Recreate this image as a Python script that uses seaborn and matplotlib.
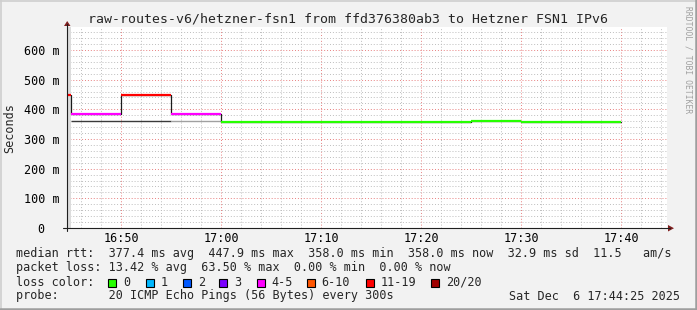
import matplotlib
matplotlib.use("Agg")
import matplotlib.pyplot as plt
import seaborn as sns
import pandas as pd
from matplotlib.patches import Rectangle, Polygon
from matplotlib.lines import Line2D

# ---------------- data ----------------
title = "raw-routes-v6/hetzner-fsn1 from ffd376380ab3 to Hetzner FSN1 IPv6"
sample_times = ["16:45", "16:50", "16:55", "17:00", "17:05", "17:10",
                "17:15", "17:20", "17:25", "17:30", "17:35", "17:40"]
median_ms = [447.9, 384.0, 447.9, 383.0, 358.0, 358.0,
             358.0, 358.0, 358.0, 361.0, 358.0, 358.0]
loss_class = ["11-19", "4-5", "11-19", "4-5", "0", "0",
              "0", "0", "0", "0", "0", "0"]
step_minutes = 5

smoke_start = ["16:45", "16:55"]
smoke_end = ["16:55", "17:00"]
smoke_ms = [359.0, 359.0]
smoke_shade = ["#3a3a3a", "#a0a0a0"]

window_start = "16:44:36"
window_end = "17:44:36"
unknown_until = "16:45"

x_tick_labels = ["16:50", "17:00", "17:10", "17:20", "17:30", "17:40"]
y_ticks = [0, 100, 200, 300, 400, 500, 600]
y_tick_labels = ["0  ", "100 m", "200 m", "300 m", "400 m", "500 m", "600 m"]
y_top = 677.5

loss_legend = ["0", "1", "2", "3", "4-5", "6-10", "11-19", "20/20"]
loss_colors = ["#26ff00", "#00b8ff", "#0059ff", "#7b00ff",
               "#ff00ff", "#ff5500", "#ff0000", "#a10000"]

row_median = "median rtt:  377.4 ms avg  447.9 ms max  358.0 ms min  358.0 ms now  32.9 ms sd  11.5   am/s"
row_loss = "packet loss: 13.42 % avg  63.50 % max  0.00 % min  0.00 % now"
row_probe = "probe:       20 ICMP Echo Pings (56 Bytes) every 300s"
stamp = "Sat Dec  6 17:44:25 2025"
watermark = "RRDTOOL / TOBI OETIKER"


def to_min(s):
    parts = [int(p) for p in s.split(":")]
    while len(parts) < 3:
        parts.append(0)
    return parts[0] * 60 + parts[1] + parts[2] / 60.0


# ---------------- style ----------------
sns.set_theme(style="white")
plt.rcParams["font.family"] = ["DejaVu Sans Mono", "DejaVu Sans"]
FS = 8.5

W, H = 697, 310
BG = "#f2f2f2"
fig = plt.figure(figsize=(W / 100, H / 100), dpi=100, facecolor=BG)


def fp(x, y):
    return (x / W, 1 - y / H)


L, R, T, B = 67, 667, 27, 228
ax = fig.add_axes([L / W, 1 - B / H, (R - L) / W, (B - T) / H])
ax.set_facecolor("white")

x0, x1 = to_min(window_start), to_min(window_end)
ax.set_xlim(x0, x1)
ax.set_ylim(0, y_top)

# grid
tick_pos = [to_min(t) for t in x_tick_labels]
ax.set_xticks(tick_pos)
ax.set_xticklabels(x_tick_labels)
minor_x = [m for m in range(int(x0) + 1, int(x1) + 1) if m % 2 == 0]
ax.set_xticks(minor_x, minor=True)
ax.set_yticks(y_ticks)
ax.set_yticklabels(y_tick_labels)
ax.set_yticks(list(range(20, int(y_top), 20)), minor=True)

ax.grid(which="minor", color="#bdbdbd", linestyle=(0, (1, 2)), linewidth=0.7, zorder=0)
ax.grid(which="major", color="#e88080", linestyle=(0, (1, 2)), linewidth=0.7, zorder=0)
ax.set_axisbelow(True)
for s in ax.spines.values():
    s.set_visible(False)
ax.tick_params(axis="both", which="both", labelsize=FS, colors="black")
ax.tick_params(axis="x", which="major", length=2, color="#de5050", width=0.7, pad=0.8)
ax.tick_params(axis="x", which="minor", length=1.5, color="#aaaaaa", width=0.7)
ax.tick_params(axis="y", which="major", length=2.5, color="#1f1f1f", width=0.7, pad=3)
ax.tick_params(axis="y", which="minor", length=0)

# unknown area
ax.axvspan(x0, to_min(unknown_until), color="#dcdcdc", zorder=1, lw=0)

# smoke
ax.hlines(smoke_ms, [to_min(s) for s in smoke_start], [to_min(e) for e in smoke_end],
          colors=smoke_shade, linewidth=1.0, zorder=2)

# black step median
df_step = pd.DataFrame({"t": [to_min(t) for t in sample_times], "rtt": median_ms})
sns.lineplot(data=df_step, x="t", y="rtt", drawstyle="steps-pre", color="#1a1a1a",
             linewidth=0.9, estimator=None, ax=ax, zorder=3)

# coloured median segments by loss
rows = []
for i, (t, v, c) in enumerate(zip(sample_times, median_ms, loss_class)):
    end = to_min(t)
    rows.append({"seg": i, "t": end - step_minutes, "rtt": v, "loss": c})
    rows.append({"seg": i, "t": end, "rtt": v, "loss": c})
df_seg = pd.DataFrame(rows)
palette = dict(zip(loss_legend, loss_colors))
sns.lineplot(data=df_seg, x="t", y="rtt", hue="loss", units="seg", estimator=None,
             palette=palette, linewidth=1.6, legend=False, ax=ax, zorder=4,
             solid_capstyle="butt")
ax.set_xlabel("")
ax.set_ylabel("")

# axes lines and arrows (decoration)
fig.add_artist(Line2D([fp(L, 0)[0]] * 2, [fp(0, 231)[1], fp(0, 24)[1]], color="#1f1f1f", lw=0.8))
fig.add_artist(Line2D([fp(63, 0)[0], fp(670, 0)[0]], [fp(0, B)[1]] * 2, color="#1f1f1f", lw=0.8))
fig.add_artist(Polygon([fp(64, 26), fp(70.5, 26), fp(67.2, 21)], closed=True,
                       facecolor="#801f1f", edgecolor="none"))
fig.add_artist(Polygon([fp(668, 225), fp(668, 231.5), fp(674, 228.2)], closed=True,
                       facecolor="#801f1f", edgecolor="none"))

# texts
fig.text(*fp(348, 19), title, ha="center", va="center", fontsize=9.5)
fig.text(*fp(10, 128), "Seconds", ha="center", va="center", rotation=90, fontsize=FS)
fig.text(*fp(688, 6), watermark, ha="center", va="top", rotation=270,
         fontsize=5.8, color="#a0a0a0")

rows_y = [254, 268, 282, 296]
fig.text(*fp(16, rows_y[0]), row_median, ha="left", va="center", fontsize=FS)
fig.text(*fp(16, rows_y[1]), row_loss, ha="left", va="center", fontsize=FS)
fig.text(*fp(16, rows_y[2]), "loss color:", ha="left", va="center", fontsize=FS)
fig.text(*fp(16, rows_y[3]), row_probe, ha="left", va="center", fontsize=FS)
fig.text(*fp(680, rows_y[3]), stamp, ha="right", va="center", fontsize=FS)

box_x = [108, 145.7, 182.7, 219, 256.7, 306.7, 365.7, 430.7]
for bx, lab, col in zip(box_x, loss_legend, loss_colors):
    fig.add_artist(Rectangle(fp(bx, rows_y[2] + 4.5), 8 / W, 8 / H, facecolor=col,
                             edgecolor="black", lw=0.8, transform=fig.transFigure))
    fig.text(*fp(bx + 15, rows_y[2]), lab, ha="left", va="center", fontsize=FS)

# border shades
fig.add_artist(Line2D([0.5 / W, 0.5 / W], [0, 1], color="#cfcfcf", lw=1.2))
fig.add_artist(Line2D([0, 1], [1 - 0.5 / H, 1 - 0.5 / H], color="#cfcfcf", lw=1.2))
fig.add_artist(Line2D([1 - 1.2 / W, 1 - 1.2 / W], [0, 1], color="#9e9e9e", lw=1.8))
fig.add_artist(Line2D([0, 1], [1.2 / H, 1.2 / H], color="#9e9e9e", lw=1.8))

fig.savefig("out.png", dpi=100, facecolor=BG)
